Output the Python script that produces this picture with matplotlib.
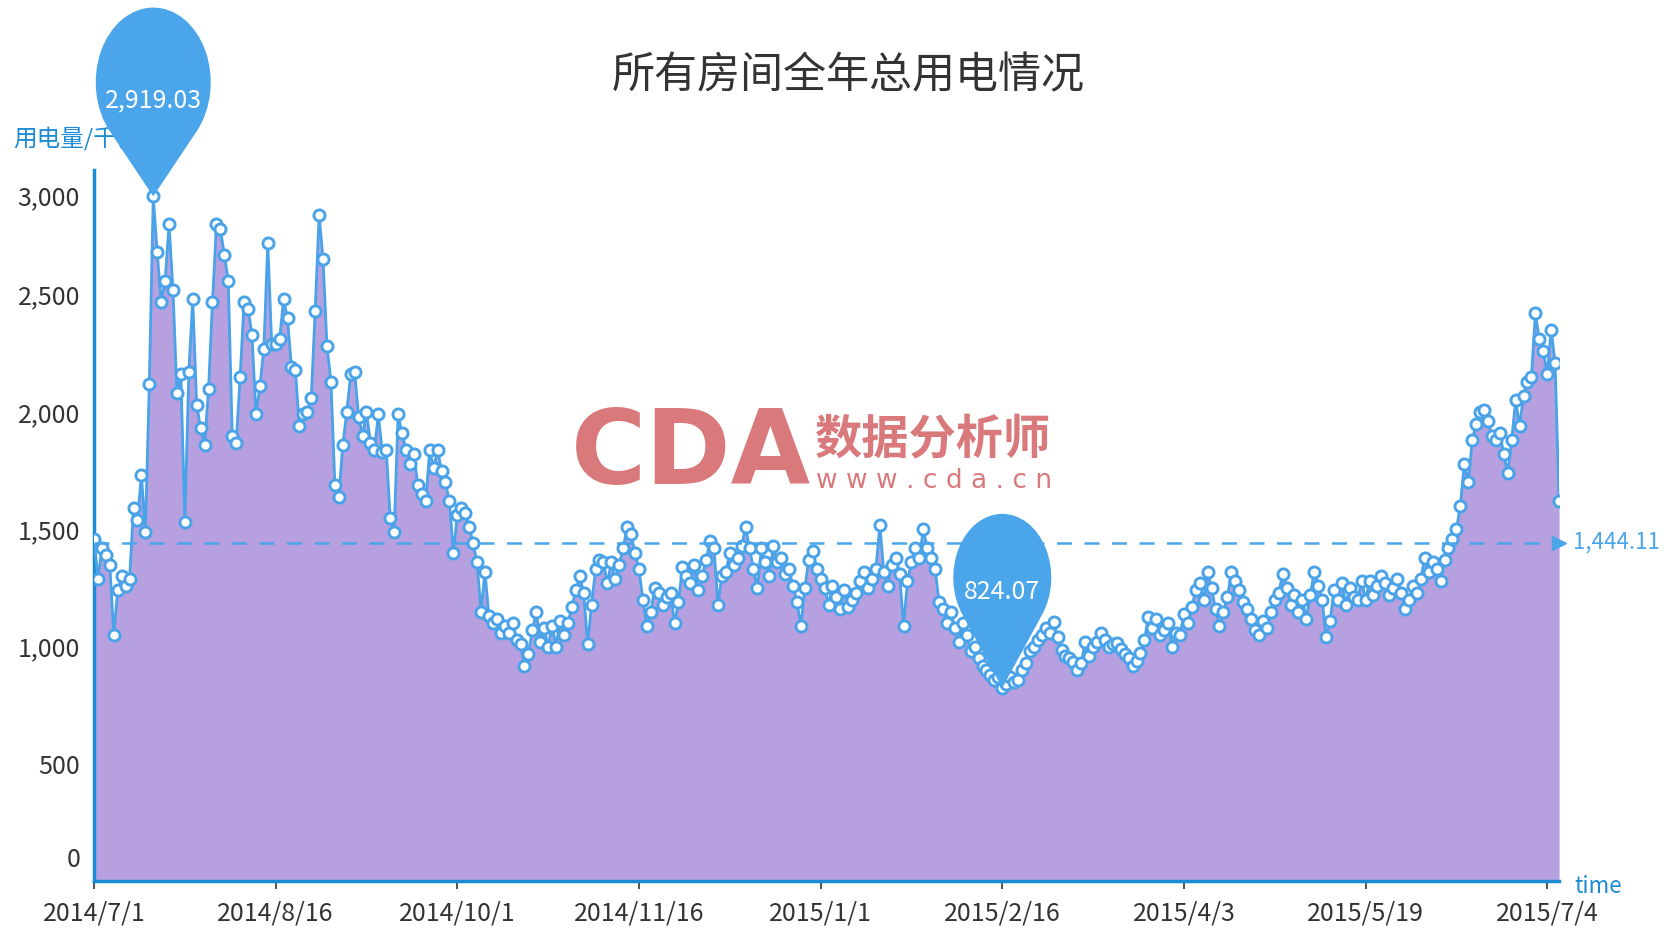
import numpy as np
import matplotlib.pyplot as plt
from matplotlib.path import Path
from matplotlib.patches import PathPatch
from matplotlib.transforms import Affine2D, ScaledTranslation

plt.rcParams['font.family'] = ['Noto Sans CJK SC', 'DejaVu Sans']

# daily total usage of all rooms, 2014/7/1 .. 2015/7/7
usage = [
    # 2014/7/1 ..
    1460, 1290, 1420, 1390, 1350, 1050, 1240, 1300, 1260, 1290,
    1590, 1540, 1730, 1490, 2120, 2919.03, 2680, 2470, 2560, 2800,
    2520, 2080, 2160, 1530, 2170, 2480, 2030, 1930, 1860, 2100,
    2470, 2800, 2780, 2670, 2560, 1900, 1870, 2150, 2470, 2440,
    2330, 1990, 2110, 2270, 2720, 2290,
    # 2014/8/16 ..
    2290, 2310, 2480, 2400, 2190, 2180, 1940, 1990, 2000, 2060,
    2430, 2840, 2650, 2280, 2130, 1690, 1640, 1860, 2000, 2160,
    2170, 1980, 1900, 2000, 1870, 1840, 1990, 1830, 1840, 1550,
    1490, 1990, 1910, 1840, 1780, 1820, 1690, 1650, 1620, 1840,
    1760, 1840, 1750, 1700, 1620, 1400,
    # 2014/10/1 ..
    1560, 1590, 1570, 1510, 1440, 1360, 1150, 1320, 1130, 1100,
    1120, 1060, 1090, 1060, 1100, 1030, 1010, 920, 970, 1070,
    1150, 1020, 1080, 1000, 1090, 1000, 1110, 1050, 1100, 1170,
    1240, 1300, 1230, 1010, 1180, 1330, 1370, 1360, 1270, 1360,
    1290, 1350, 1420, 1510, 1480, 1400,
    # 2014/11/16 ..
    1330, 1200, 1090, 1150, 1250, 1230, 1180, 1210, 1230, 1100,
    1190, 1340, 1300, 1270, 1350, 1240, 1300, 1370, 1450, 1420,
    1180, 1300, 1320, 1400, 1350, 1380, 1430, 1510, 1420, 1330,
    1250, 1420, 1360, 1300, 1430, 1360, 1380, 1310, 1330, 1260,
    1190, 1090, 1250, 1370, 1410, 1330,
    # 2015/1/1 ..
    1290, 1250, 1180, 1260, 1210, 1160, 1240, 1170, 1200, 1230,
    1280, 1320, 1250, 1290, 1330, 1520, 1320, 1260, 1350, 1380,
    1310, 1090, 1280, 1360, 1420, 1380, 1500, 1420, 1380, 1330,
    1190, 1160, 1100, 1150, 1080, 1020, 1100, 1050, 980, 1000,
    950, 920, 900, 880, 860, 870,
    # 2015/2/16 ..
    824.07, 840, 870, 850, 860, 900, 932, 980, 1000, 1030,
    1051, 1080, 1060, 1106, 1040, 987, 960, 950, 937, 900,
    930, 1019, 960, 1000, 1020, 1060, 1030, 1000, 1010, 1015,
    990, 970, 950, 920, 940, 974, 1028, 1128, 1080, 1120,
    1050, 1070, 1100, 1000, 1060, 1050,
    # 2015/4/3 ..
    1140, 1100, 1170, 1240, 1270, 1200, 1320, 1250, 1160, 1090,
    1150, 1210, 1320, 1280, 1240, 1190, 1160, 1120, 1070, 1050,
    1110, 1080, 1150, 1200, 1230, 1310, 1250, 1180, 1220, 1150,
    1200, 1120, 1220, 1320, 1260, 1200, 1040, 1110, 1240, 1200,
    1270, 1180, 1250, 1210, 1200, 1280,
    # 2015/5/19 .. 2015/7/7
    1200, 1280, 1220, 1260, 1300, 1270, 1220, 1250, 1290, 1230,
    1160, 1200, 1260, 1230, 1290, 1380, 1320, 1360, 1330, 1280,
    1370, 1420, 1460, 1500, 1600, 1780, 1700, 1880, 1950, 2000,
    2010, 1960, 1900, 1880, 1910, 1820, 1740, 1880, 2050, 1940,
    2070, 2130, 2150, 2420, 2310, 2260, 2160, 2350, 2210, 1620,
]
days = np.arange(len(usage))

tick_days = [0, 46, 92, 138, 184, 230, 276, 322, 368]
tick_labels = ['2014/7/1', '2014/8/16', '2014/10/1', '2014/11/16', '2015/1/1',
               '2015/2/16', '2015/4/3', '2015/5/19', '2015/7/4']
y_ticks = [0, 500, 1000, 1500, 2000, 2500, 3000]
avg_usage = 1444.11

axis_c = '#1a8bd4'
line_c = '#4aa3e8'
area_c = '#b6a0e0'
pin_c = '#4ba5ea'
text_c = '#333333'
mark_c = '#d9797c'


def pin_path(r, c):
    # teardrop marker: circle (radius r, centre c above the tip) with straight
    # tangent lines down to the tip at (0, 0); sizes in pixels
    a = np.degrees(np.arcsin(r / c))
    arc = Path.arc(-a, 180 + a)
    verts = [(0, 0)] + [tuple(v) for v in arc.vertices * r + [0, c]] + [(0, 0)]
    codes = [Path.MOVETO, Path.LINETO] + list(arc.codes[1:]) + [Path.CLOSEPOLY]
    return Path(verts, codes)


fig = plt.figure(figsize=(16.73, 9.46), dpi=100)
ax = fig.add_axes([0.0562, 0.0682, 0.9319 - 0.0562, 0.820 - 0.0682])

ax.fill_between(days, 0, usage, color=area_c, lw=0, zorder=1)
ax.plot(days, usage, color=line_c, lw=2, marker='o', ms=8,
        mfc='white', mec=line_c, mew=2.1, zorder=3)

ax.set_xlim(0, days[-1])
ax.set_ylim(0, 3030)

# average line
ax.plot([0, days[-1]], [avg_usage, avg_usage], ls=(0, (6, 5)), lw=1.8,
        color=pin_c, zorder=4)
ax.plot(days[-1], avg_usage, marker='>', ms=10, color=pin_c, clip_on=False, zorder=4)
ax.annotate(f'{avg_usage:,.2f}', xy=(days[-1], avg_usage), xytext=(14, 0),
            textcoords='offset pixels', ha='left', va='center', fontsize=16,
            color=pin_c, annotation_clip=False)

for sp in ['top', 'right']:
    ax.spines[sp].set_visible(False)
for sp in ['left', 'bottom']:
    ax.spines[sp].set_color(axis_c)
    ax.spines[sp].set_linewidth(2.5)

ax.set_xticks(tick_days, tick_labels)
ax.set_yticks(y_ticks, [f'{v:,}' for v in y_ticks])
ax.tick_params(axis='x', length=6, width=1.2, color=text_c, labelcolor=text_c,
               labelsize=18, pad=8)
ax.tick_params(axis='y', length=0, labelcolor=text_c, labelsize=18, pad=10)
ylabs = ax.get_yticklabels()
ylabs[0].set_va('bottom')
ylabs[0].set_transform(ylabs[0].get_transform()
                       + ScaledTranslation(0, 6 / 72, fig.dpi_scale_trans))
ylabs[-1].set_va('top')
ylabs[-1].set_transform(ylabs[-1].get_transform()
                        + ScaledTranslation(0, -6 / 72, fig.dpi_scale_trans))

# axis names
ax.text(0.008, 0.853, '用电量/千瓦时', transform=fig.transFigure, color=axis_c,
        fontsize=17, ha='left', va='center', zorder=2, clip_on=False)
ax.text(0.941, 0.0634, 'time', transform=fig.transFigure, color=axis_c,
        fontsize=16, ha='left', va='center', clip_on=False)

# max / min pins (balloon is a bit taller than wide, as in the source)
i_max = int(np.argmax(usage))
i_min = int(np.argmin(usage))
for i, r, c in [(i_max, 57.5, 87.7), (i_min, 49, 85)]:
    tr = Affine2D().scale(1, 1.3) + ScaledTranslation(days[i], usage[i], ax.transData)
    p = PathPatch(pin_path(r, c), transform=tr, facecolor=pin_c,
                  edgecolor='none', zorder=10, clip_on=False)
    ax.add_artist(p)
    ax.annotate(f'{usage[i]:,.2f}', xy=(days[i], usage[i]), xytext=(0, 96),
                textcoords='offset pixels', ha='center', va='center',
                fontsize=18, color='white', zorder=11, annotation_clip=False)

fig.text(0.507, 0.919, '所有房间全年总用电情况', fontsize=31, color=text_c,
         ha='center', va='center')

# watermark
fig.text(0.341, 0.519, 'CDA', fontsize=74, fontweight='bold', color=mark_c,
         family='DejaVu Sans', ha='left', va='center')
fig.text(0.487, 0.534, '数据分析师', fontsize=34, fontweight='bold', color=mark_c,
         ha='left', va='center')
fig.text(0.488, 0.492, 'w w w . c d a . c n', fontsize=19, color=mark_c,
         family='DejaVu Sans', ha='left', va='center')

fig.savefig('out.png', dpi=100)
